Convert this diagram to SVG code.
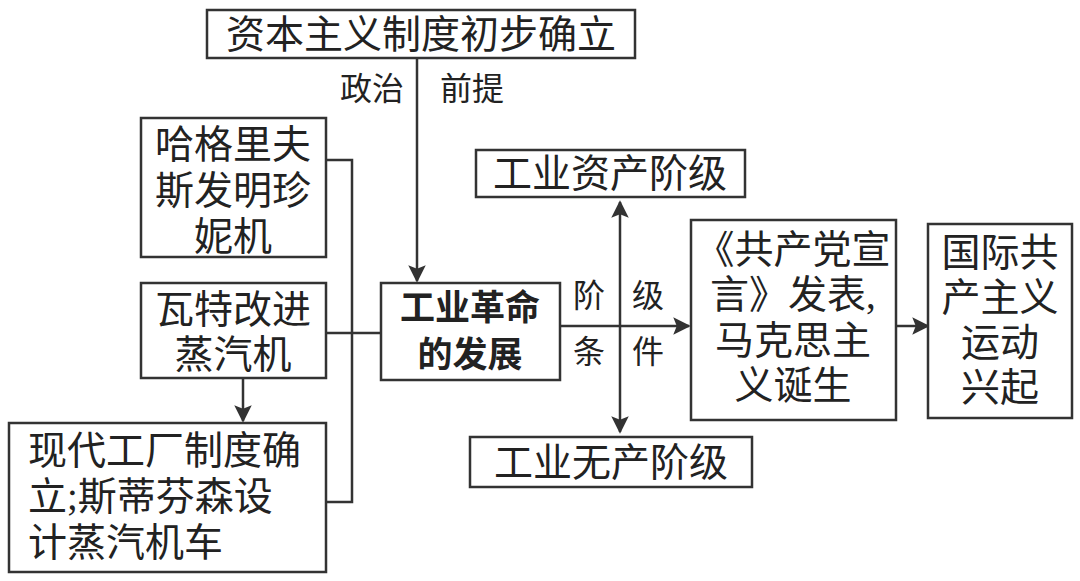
<svg xmlns="http://www.w3.org/2000/svg" width="1080" height="581" viewBox="0 0 1080 581">
<style>
rect{fill:#fff;stroke:#333;stroke-width:2.5}
text{font-family:"Liberation Serif","Noto Sans CJK SC",serif;font-size:39px;fill:#222;text-anchor:middle}
.b{font-family:"Noto Sans CJK SC",sans-serif;font-weight:bold;font-size:35px}
.l{font-size:32px}
.s{text-anchor:start}
#conn path{fill:none;stroke:#333;stroke-width:2.5}
</style>
<defs><marker id="a" viewBox="0 0 10 10" refX="9" refY="5" markerWidth="7" markerHeight="7" orient="auto-start-reverse"><path d="M0,0L10,5L0,10L2,5z" fill="#333"/></marker></defs>
<rect width="1080" height="581" style="fill:#fff;stroke:none"/>
<g id="conn">
<path d="M417,58V281" marker-end="url(#a)"/>
<path d="M326,160H352V502H326M326,333H381"/>
<path d="M243,378V421" marker-end="url(#a)"/>
<path d="M560,326H689" marker-end="url(#a)"/>
<path d="M620,202V432" marker-start="url(#a)" marker-end="url(#a)"/>
<path d="M896,326H928" marker-end="url(#a)"/>
</g>
<g id="labels">
<text class="l" x="372" y="100">政治</text><text class="l" x="472" y="100">前提</text>
<text class="l" x="589" y="307">阶</text><text class="l" x="648" y="307">级</text>
<text class="l" x="589" y="363">条</text><text class="l" x="648" y="363">件</text>
</g>
<g id="n1"><rect x="207" y="10" width="428" height="48"/><text x="421" y="48">资本主义制度初步确立</text></g>
<g id="n2"><rect x="141" y="118" width="185" height="139"/><text x="233" y="158">哈格里夫</text><text x="233" y="204">斯发明珍</text><text x="233" y="250">妮机</text></g>
<g id="n3"><rect x="141" y="283" width="185" height="95"/><text x="233" y="323">瓦特改进</text><text x="233" y="368">蒸汽机</text></g>
<g id="n4"><rect x="9" y="423" width="317" height="149"/><text class="s" x="28" y="464">现代工厂制度确</text><text class="s" x="28" y="510">立;斯蒂芬森设</text><text class="s" x="28" y="556">计蒸汽机车</text></g>
<g id="n5"><rect x="381" y="283" width="179" height="97"/><text class="b" x="470" y="320">工业革命</text><text class="b" x="470" y="367">的发展</text></g>
<g id="n6"><rect x="476" y="150" width="269" height="47"/><text x="610" y="187">工业资产阶级</text></g>
<g id="n7"><rect x="470" y="437" width="282" height="50"/><text x="611" y="476">工业无产阶级</text></g>
<g id="n8"><rect x="691" y="220" width="205" height="200"/><text x="793" y="263">《共产党宣</text><text x="793" y="308">言》发表,</text><text x="793" y="354">马克思主</text><text x="793" y="399">义诞生</text></g>
<g id="n9"><rect x="928" y="224" width="144" height="194"/><text x="1000" y="266">国际共</text><text x="1000" y="311">产主义</text><text x="1000" y="356">运动</text><text x="1000" y="401">兴起</text></g>
</svg>
